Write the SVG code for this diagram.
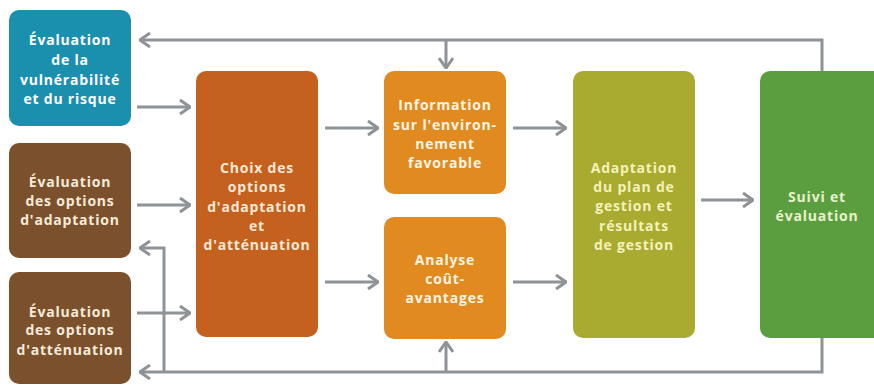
<svg xmlns="http://www.w3.org/2000/svg" width="874" height="385" viewBox="0 0 874 385">
<defs>
<style>
.t{font-family:"Open Sans","Noto Sans","Liberation Sans",sans-serif;font-weight:bold;font-size:14px;letter-spacing:0.8px;text-anchor:middle}
.c{fill:none;stroke:#8e9398;stroke-width:3}
</style>
<marker id="a" viewBox="0 0 12 16" refX="11" refY="8" markerWidth="12" markerHeight="16" markerUnits="userSpaceOnUse" orient="auto">
<path d="M1,1 L11,8 L1,15" fill="none" stroke="#8e9398" stroke-width="3"/>
</marker>
</defs>
<rect width="874" height="385" fill="#ffffff"/>
<g id="connectors">
<path class="c" d="M822,71 V40 H140" marker-end="url(#a)"/>
<path class="c" d="M446,40 V68" marker-end="url(#a)"/>
<path class="c" d="M822,338 V372 H140" marker-end="url(#a)"/>
<path class="c" d="M446,372 V342" marker-end="url(#a)"/>
<path class="c" d="M164,372 V248 H140" marker-end="url(#a)"/>
<path class="c" d="M137,107 H190" marker-end="url(#a)"/>
<path class="c" d="M137,205 H190" marker-end="url(#a)"/>
<path class="c" d="M137,313 H190" marker-end="url(#a)"/>
<path class="c" d="M325,128 H378" marker-end="url(#a)"/>
<path class="c" d="M325,282 H378" marker-end="url(#a)"/>
<path class="c" d="M513,128 H566" marker-end="url(#a)"/>
<path class="c" d="M513,282 H566" marker-end="url(#a)"/>
<path class="c" d="M701,200 H753" marker-end="url(#a)"/>
</g>
<g id="n1">
<rect x="9" y="10" width="122" height="116" rx="10" fill="#1b8fae"/>
<text class="t" fill="#ffffff"><tspan x="70" y="45">Évaluation</tspan><tspan x="70" y="65">de la</tspan><tspan x="70" y="85">vulnérabilité</tspan><tspan x="70" y="104">et du risque</tspan></text>
</g>
<g id="n2">
<rect x="9" y="143" width="122" height="115" rx="10" fill="#7b512d"/>
<text class="t" fill="#f6ead8"><tspan x="70" y="187">Évaluation</tspan><tspan x="70" y="206">des options</tspan><tspan x="70" y="225">d'adaptation</tspan></text>
</g>
<g id="n3">
<rect x="9" y="272" width="122" height="112" rx="10" fill="#7b512d"/>
<text class="t" fill="#f6ead8"><tspan x="70" y="317">Évaluation</tspan><tspan x="70" y="335">des options</tspan><tspan x="70" y="355">d'atténuation</tspan></text>
</g>
<g id="n4">
<rect x="196" y="71" width="122" height="266" rx="10" fill="#c4611f"/>
<text class="t" fill="#fbe8d4"><tspan x="257" y="173">Choix des</tspan><tspan x="257" y="192">options</tspan><tspan x="257" y="212">d'adaptation</tspan><tspan x="257" y="231">et</tspan><tspan x="257" y="250">d'atténuation</tspan></text>
</g>
<g id="n5">
<rect x="384" y="71" width="122" height="123" rx="10" fill="#e08a1f"/>
<text class="t" fill="#fff4e2"><tspan x="445" y="110">Information</tspan><tspan x="445" y="130">sur l'environ-</tspan><tspan x="445" y="149">nement</tspan><tspan x="445" y="168">favorable</tspan></text>
</g>
<g id="n6">
<rect x="384" y="217" width="122" height="122" rx="10" fill="#e08a1f"/>
<text class="t" fill="#fff4e2"><tspan x="445" y="265">Analyse</tspan><tspan x="445" y="284">coût-</tspan><tspan x="445" y="303">avantages</tspan></text>
</g>
<g id="n7">
<rect x="573" y="71" width="122" height="267" rx="10" fill="#a9aa30"/>
<text class="t" fill="#f4f2b8"><tspan x="634" y="173">Adaptation</tspan><tspan x="634" y="192">du plan de</tspan><tspan x="634" y="211">gestion et</tspan><tspan x="634" y="231">résultats</tspan><tspan x="634" y="250">de gestion</tspan></text>
</g>
<g id="n8">
<rect x="760" y="71" width="124" height="267" rx="10" fill="#5b9e3f"/>
<text class="t" fill="#e6f2cc"><tspan x="817" y="202">Suivi et</tspan><tspan x="817" y="221">évaluation</tspan></text>
</g>
</svg>
